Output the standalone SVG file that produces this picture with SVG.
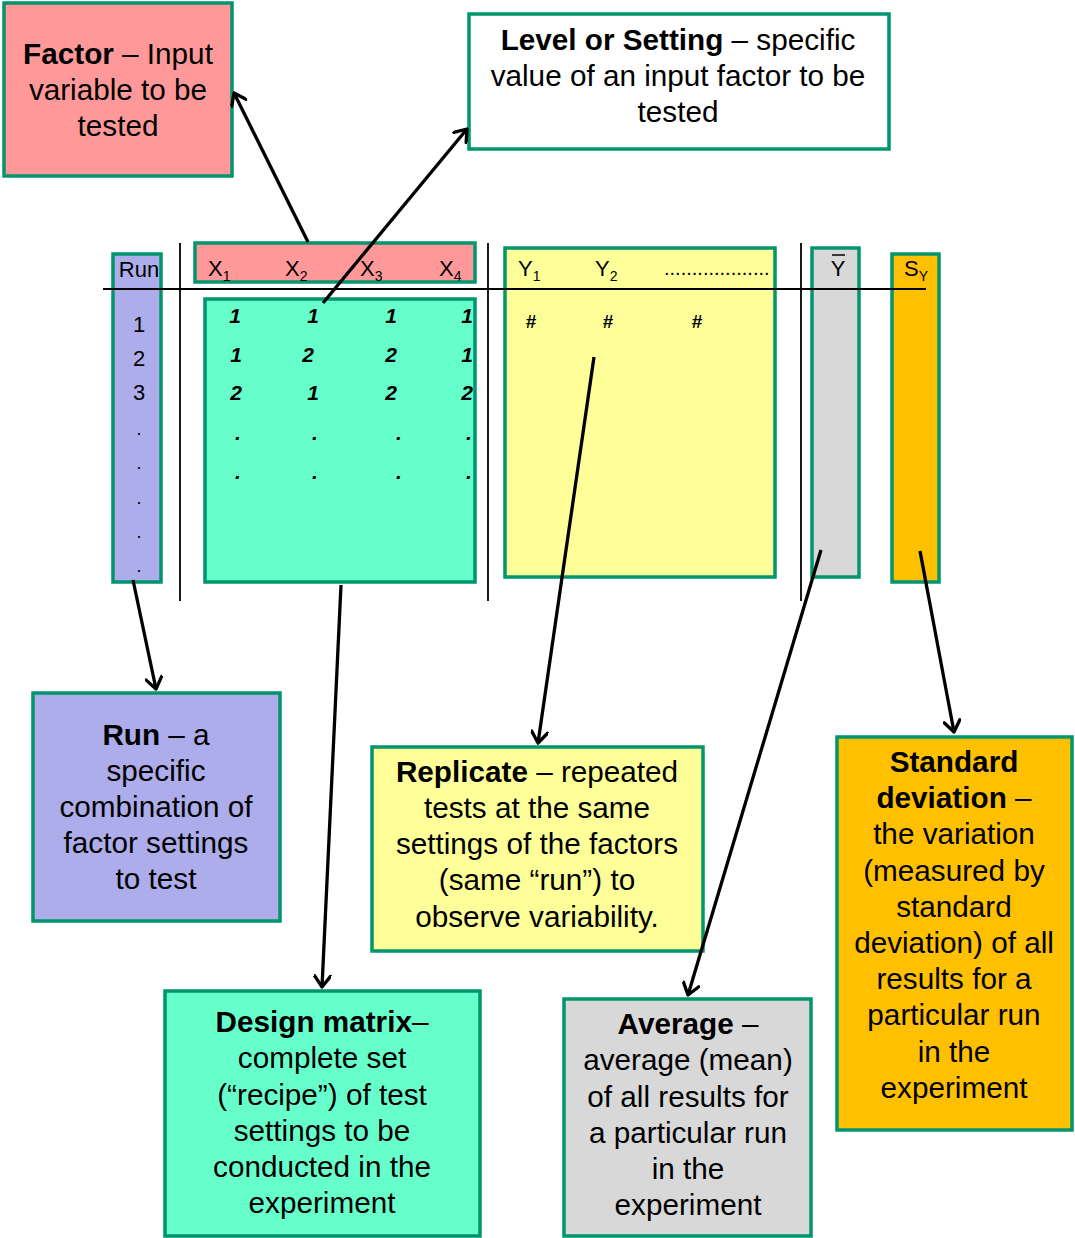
<svg xmlns="http://www.w3.org/2000/svg" width="1075" height="1238" viewBox="0 0 1075 1238">
<defs>
<style>
.bx{stroke:#00956E;stroke-width:3.5}
.t{font-family:"Liberation Sans",Arial,sans-serif;font-size:29.7px;fill:#000;text-anchor:middle}
.b{font-weight:bold}
.h{font-family:"Liberation Sans",Arial,sans-serif;font-size:22px;fill:#000}
.sub{font-size:14px}
.m{font-family:"Liberation Sans",Arial,sans-serif;font-size:21px;font-weight:bold;font-style:italic;fill:#000;text-anchor:middle}
.hash{font-family:"Liberation Sans",Arial,sans-serif;font-size:19px;font-weight:bold;fill:#000;text-anchor:middle}
.dot{font-family:"Liberation Sans",Arial,sans-serif;font-size:18px;fill:#000;text-anchor:middle}
.rule{stroke:#000;stroke-width:1.8}
.conn{stroke:#000;stroke-width:3.3;fill:none;marker-end:url(#arr)}
</style>
<marker id="arr" markerUnits="userSpaceOnUse" viewBox="0 0 16 18" markerWidth="16" markerHeight="18" refX="14" refY="9" orient="auto">
<path d="M3,1 L14,9 L3,17" fill="none" stroke="#000" stroke-width="3.3" stroke-linecap="round" stroke-linejoin="round"/>
</marker>
</defs>
<rect width="1075" height="1238" fill="#fff"/>

<g id="factor">
<rect class="bx" x="4" y="3" width="228" height="173" fill="#FF9999"/>
<text class="t" x="118" y="64"><tspan class="b">Factor</tspan> – Input</text>
<text class="t" x="118" y="100">variable to be</text>
<text class="t" x="118" y="136">tested</text>
</g>

<g id="level">
<rect class="bx" x="469" y="14" width="420" height="135" fill="#fff"/>
<text class="t" x="678" y="50"><tspan class="b">Level or Setting</tspan> – specific</text>
<text class="t" x="678" y="86">value of an input factor to be</text>
<text class="t" x="678" y="122">tested</text>
</g>

<g id="table">
<g id="run-col">
<rect class="bx" x="113" y="254" width="48" height="328" fill="#ADADEB"/>
<text class="h" x="139" y="277" text-anchor="middle">Run</text>
<text class="h" x="139" y="332" text-anchor="middle">1</text>
<text class="h" x="139" y="366" text-anchor="middle">2</text>
<text class="h" x="139" y="400" text-anchor="middle">3</text>
<text class="dot" x="139" y="435">.</text>
<text class="dot" x="139" y="469">.</text>
<text class="dot" x="139" y="504">.</text>
<text class="dot" x="139" y="538">.</text>
<text class="dot" x="139" y="572">.</text>
</g>
<g id="x-header">
<rect class="bx" x="195" y="243" width="280" height="39" fill="#FF9999"/>
<text class="h" x="208" y="276">X<tspan class="sub" dy="5">1</tspan></text>
<text class="h" x="285" y="276">X<tspan class="sub" dy="5">2</tspan></text>
<text class="h" x="360" y="276">X<tspan class="sub" dy="5">3</tspan></text>
<text class="h" x="439" y="276">X<tspan class="sub" dy="5">4</tspan></text>
</g>
<g id="matrix">
<rect class="bx" x="205" y="299" width="270" height="283" fill="#66FFCC"/>
<text class="m" x="235" y="323">1</text><text class="m" x="313" y="323">1</text><text class="m" x="391" y="323">1</text><text class="m" x="467" y="323">1</text>
<text class="m" x="236" y="362">1</text><text class="m" x="308" y="362">2</text><text class="m" x="391" y="362">2</text><text class="m" x="467" y="362">1</text>
<text class="m" x="236" y="400">2</text><text class="m" x="313" y="400">1</text><text class="m" x="391" y="400">2</text><text class="m" x="467" y="400">2</text>
<text class="m" x="238" y="440">.</text><text class="m" x="315" y="440">.</text><text class="m" x="399" y="440">.</text><text class="m" x="469" y="440">.</text>
<text class="m" x="238" y="479">.</text><text class="m" x="315" y="479">.</text><text class="m" x="399" y="479">.</text><text class="m" x="469" y="479">.</text>
</g>
<g id="y-col">
<rect class="bx" x="505" y="248" width="270" height="329" fill="#FFFF99"/>
<text class="h" x="518" y="276">Y<tspan class="sub" dy="5">1</tspan></text>
<text class="h" x="595" y="276">Y<tspan class="sub" dy="5">2</tspan></text>
<text class="h" x="664" y="275" style="font-size:20px">...................</text>
<text class="hash" x="531" y="328">#</text>
<text class="hash" x="608" y="328">#</text>
<text class="hash" x="697" y="328">#</text>
</g>
<g id="ybar-col">
<rect class="bx" x="812" y="248" width="47" height="329" fill="#D8D8D8"/>
<text class="h" x="838" y="276" text-anchor="middle">Y</text>
<line x1="832" y1="255" x2="845" y2="255" stroke="#000" stroke-width="1.5"/>
</g>
<g id="sy-col">
<rect class="bx" x="892" y="254" width="47" height="328" fill="#FFC000"/>
<text class="h" x="904" y="276">S<tspan class="sub" dy="5">Y</tspan></text>
</g>
<g id="rules">
<line class="rule" x1="180" y1="243" x2="180" y2="601"/>
<line class="rule" x1="488" y1="243" x2="488" y2="601"/>
<line class="rule" x1="801" y1="243" x2="801" y2="601"/>
<line class="rule" x1="103" y1="289" x2="926" y2="289"/>
</g>
</g>

<g id="run">
<rect class="bx" x="33" y="693" width="247" height="228" fill="#ADADEB"/>
<text class="t" x="156" y="745"><tspan class="b">Run</tspan> – a</text>
<text class="t" x="156" y="781">specific</text>
<text class="t" x="156" y="817">combination of</text>
<text class="t" x="156" y="853">factor settings</text>
<text class="t" x="156" y="889">to test</text>
</g>

<g id="replicate">
<rect class="bx" x="372" y="747" width="331" height="204" fill="#FFFF99"/>
<text class="t" x="537" y="782"><tspan class="b">Replicate</tspan> – repeated</text>
<text class="t" x="537" y="818">tests at the same</text>
<text class="t" x="537" y="854">settings of the factors</text>
<text class="t" x="537" y="890">(same “run”) to</text>
<text class="t" x="537" y="927">observe variability.</text>
</g>

<g id="design-matrix">
<rect class="bx" x="165" y="991" width="315" height="245" fill="#66FFCC"/>
<text class="t" x="322" y="1032"><tspan class="b">Design matrix</tspan>–</text>
<text class="t" x="322" y="1068">complete set</text>
<text class="t" x="322" y="1105">(“recipe”) of test</text>
<text class="t" x="322" y="1141">settings to be</text>
<text class="t" x="322" y="1177">conducted in the</text>
<text class="t" x="322" y="1213">experiment</text>
</g>

<g id="average">
<rect class="bx" x="564" y="999" width="247" height="237" fill="#D8D8D8"/>
<text class="t" x="688" y="1034"><tspan class="b">Average</tspan> –</text>
<text class="t" x="688" y="1070">average (mean)</text>
<text class="t" x="688" y="1107">of all results for</text>
<text class="t" x="688" y="1143">a particular run</text>
<text class="t" x="688" y="1179">in the</text>
<text class="t" x="688" y="1215">experiment</text>
</g>

<g id="std-dev">
<rect class="bx" x="837" y="737" width="235" height="393" fill="#FFC000"/>
<text class="t" x="954" y="772"><tspan class="b">Standard</tspan></text>
<text class="t" x="954" y="808"><tspan class="b">deviation</tspan> –</text>
<text class="t" x="954" y="844">the variation</text>
<text class="t" x="954" y="881">(measured by</text>
<text class="t" x="954" y="917">standard</text>
<text class="t" x="954" y="953">deviation) of all</text>
<text class="t" x="954" y="989">results for a</text>
<text class="t" x="954" y="1025">particular run</text>
<text class="t" x="954" y="1062">in the</text>
<text class="t" x="954" y="1098">experiment</text>
</g>

<g id="connectors">
<line class="conn" x1="308" y1="242" x2="234" y2="93"/>
<line class="conn" x1="323" y1="303" x2="467" y2="129"/>
<line class="conn" x1="133" y1="580" x2="156" y2="689"/>
<line class="conn" x1="341" y1="585" x2="322" y2="987"/>
<line class="conn" x1="594" y1="357" x2="538" y2="743"/>
<line class="conn" x1="821" y1="550" x2="688" y2="995"/>
<line class="conn" x1="920" y1="551" x2="954" y2="732"/>
</g>
</svg>
